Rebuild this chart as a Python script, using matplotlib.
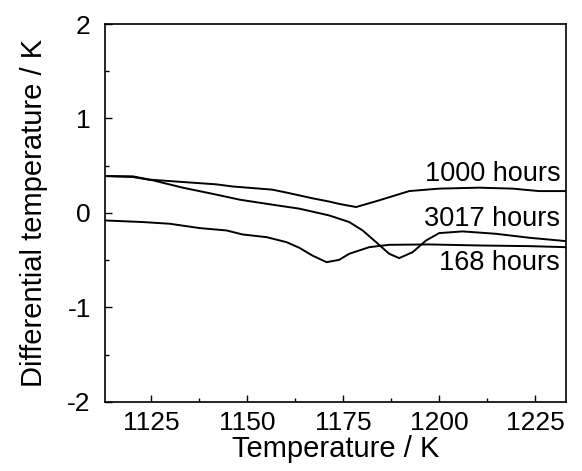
import numpy as np
import matplotlib.pyplot as plt
from matplotlib.ticker import MultipleLocator

plt.rcParams['font.family'] = ['Liberation Sans', 'DejaVu Sans']
plt.rcParams['axes.unicode_minus'] = False

# Curva 1000 h
t_1000 = [1113, 1120.3, 1124.7, 1133.3, 1142.1, 1146.2, 1156.6, 1160.3, 1167.0, 1171.4,
          1174.0, 1178.4, 1184.4, 1192.2, 1200, 1210.4, 1219.1, 1226, 1233]
d_1000 = [0.390, 0.387, 0.352, 0.327, 0.302, 0.280, 0.246, 0.215, 0.155, 0.120,
          0.095, 0.062, 0.133, 0.231, 0.257, 0.267, 0.257, 0.231, 0.231]

# Curva 3017 h
t_3017 = [1113, 1120.3, 1125.5, 1133.3, 1142.1, 1148.1, 1156.6, 1163.6, 1171.4, 1176.6,
          1180.1, 1183.6, 1187.0, 1189.6, 1193.1, 1196.6, 1200, 1206.1, 1214.7, 1223.4, 1233]
d_3017 = [0.390, 0.380, 0.345, 0.267, 0.193, 0.140, 0.087, 0.045, -0.027, -0.097,
          -0.186, -0.310, -0.433, -0.479, -0.416, -0.292, -0.214, -0.196, -0.221, -0.263, -0.299]

# Curva 168 h
t_168 = [1113, 1122.9, 1129.9, 1137.7, 1144.7, 1148.8, 1155.1, 1160.3, 1163.6, 1167.0,
         1170.7, 1174.0, 1176.6, 1181.8, 1187, 1197.4, 1210.4, 1223.4, 1233]
d_168 = [-0.080, -0.097, -0.115, -0.161, -0.186, -0.228, -0.257, -0.310, -0.369, -0.451,
         -0.522, -0.497, -0.433, -0.363, -0.338, -0.334, -0.345, -0.352, -0.363]

labels = ["1000 hours", "3017 hours", "168 hours"]
label_y = [0.41, -0.06, -0.53]

fig = plt.figure(figsize=(5.82, 4.71), dpi=100)
ax = fig.add_axes([0.180, 0.147, 0.7925, 0.802])

ax.plot(t_1000, d_1000, color='black', lw=1.4)
ax.plot(t_3017, d_3017, color='black', lw=1.4)
ax.plot(t_168, d_168, color='black', lw=1.4)

for lab, yy in zip(labels, label_y):
    ax.text(1231.5, yy, lab, ha='right', va='center', fontsize=19.5)

ax.set_xlim(1113, 1233)
ax.set_ylim(-2, 2)
ax.xaxis.set_major_locator(MultipleLocator(25))
ax.xaxis.set_minor_locator(MultipleLocator(12.5))
ax.yaxis.set_major_locator(MultipleLocator(1))
ax.yaxis.set_minor_locator(MultipleLocator(0.5))
ax.tick_params(which='both', direction='in', labelsize=19, width=1)
ax.tick_params(axis='y', pad=10)
ax.tick_params(axis='x', pad=7)
ax.tick_params(which='major', length=5)
ax.tick_params(which='minor', length=3)
for s in ax.spines.values():
    s.set_linewidth(1.2)

ax.set_xlabel("Temperature / K", fontsize=21, labelpad=0)
ax.set_ylabel("Differential temperature / K", fontsize=21, labelpad=14)

plt.savefig("out.png", dpi=100)
